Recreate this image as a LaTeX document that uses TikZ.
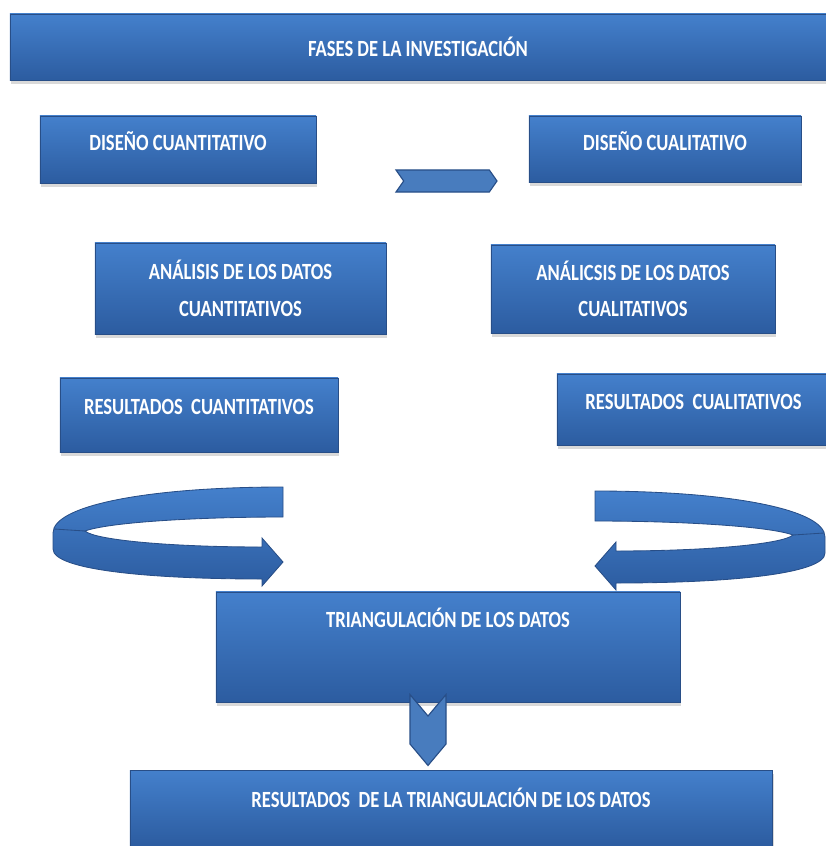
\documentclass[tikz,border=0pt]{standalone}
\usepackage{fontspec}
\newfontfamily\fasfont{Carlito}[FakeStretch=0.8]
\usepackage{tikz}
\usetikzlibrary{shapes.symbols,shadows,positioning}
\definecolor{boxTop}{RGB}{68,128,204}
\definecolor{boxBot}{RGB}{44,92,160}
\definecolor{edgeBlue}{RGB}{40,78,135}
\definecolor{chevBlue}{RGB}{72,124,190}
\tikzset{
  fasBox/.style   = {rectangle, draw=edgeBlue, line width=0.5pt,
                     top color=boxTop, bottom color=boxBot, text=white,
                     align=center, inner sep=0pt,
                     font=\fasfont\bfseries\fontsize{16.5}{26}\selectfont,
                     drop shadow={shadow xshift=1pt, shadow yshift=-3pt,
                                  opacity=0.3}},
  lift/.style     = {text height=0.37cm, text depth=#1},
  fasChev/.style  = {signal, draw=edgeBlue, line width=0.8pt, fill=chevBlue,
                     inner sep=0pt, signal pointer angle=#1},
  ribbon/.pic     = {
    \draw[edgeBlue, line width=0.6pt, top color=boxTop, bottom color=boxBot]
      (283,487) .. controls (150,487) and (53,505) .. (53,533) -- (53,549)
      .. controls (53,570) and (150,579) .. (262,579) -- (262,586)
      -- (283,562) -- (262,538) -- (262,547)
      .. controls (170,547) and (95,540) .. (85,531)
      .. controls (110,522) and (200,517) .. (283,517) -- cycle;
    \draw[edgeBlue, line width=0.6pt] (54,529) -- (85,531);
  },
}
\begin{document}
\begin{tikzpicture}[x=0.025cm, y=-0.025cm]
  \useasboundingbox (0,0) rectangle (825,846);
  \node[fasBox, minimum width=20.4cm, minimum height=1.65cm] (fases) at (418,47)
      {FASES DE LA INVESTIGACIÓN};
  \node[fasBox, lift=0.3cm, minimum width=6.9cm, minimum height=1.675cm] (dcuant)
      at (178,149.5) {DISEÑO CUANTITATIVO};
  \node[fasBox, lift=0.3cm, minimum width=6.8cm, minimum height=1.65cm] (dcual)
      at (665,149) {DISEÑO CUALITATIVO};
  \node[fasChev=110, signal from=west, signal to=east,
        minimum width=2.525cm, minimum height=0.55cm] (chevA) at (446.5,181) {};
  \node[fasBox, minimum width=7.275cm, minimum height=2.275cm] (acuant)
      at (240.5,288.5) {ANÁLISIS DE LOS DATOS\\CUANTITATIVOS};
  \node[fasBox, minimum width=7.1cm, minimum height=2.2cm] (acual)
      at (633,289) {ANÁLICSIS DE LOS DATOS\\CUALITATIVOS};
  \node[fasBox, lift=0.4cm, minimum width=6.95cm, minimum height=1.85cm] (rcuant)
      at (199,415) {RESULTADOS\ \ CUANTITATIVOS};
  \node[fasBox, lift=0.35cm, minimum width=6.825cm, minimum height=1.775cm] (rcual)
      at (693.5,409.5) {RESULTADOS\ \ CUALITATIVOS};
  % curved arrows into the triangulation
  \pic at (0,0) {ribbon};
  \pic[xscale=-1] at (878,4) {ribbon};
  \node[fasBox, lift=1.35cm, minimum width=11.6cm, minimum height=2.75cm] (tri)
      at (448,647) {TRIANGULACIÓN DE LOS DATOS};
  \node[fasChev=80, signal from=north, signal to=south,
        minimum width=0.9cm, minimum height=0.7cm] (chevB) at (428,730) {};
  \node[fasBox, lift=0.4cm, minimum width=16.05cm, minimum height=1.9cm] (rtri)
      at (451,808) {RESULTADOS\ \ DE LA TRIANGULACIÓN DE LOS DATOS};
\end{tikzpicture}
\end{document}
